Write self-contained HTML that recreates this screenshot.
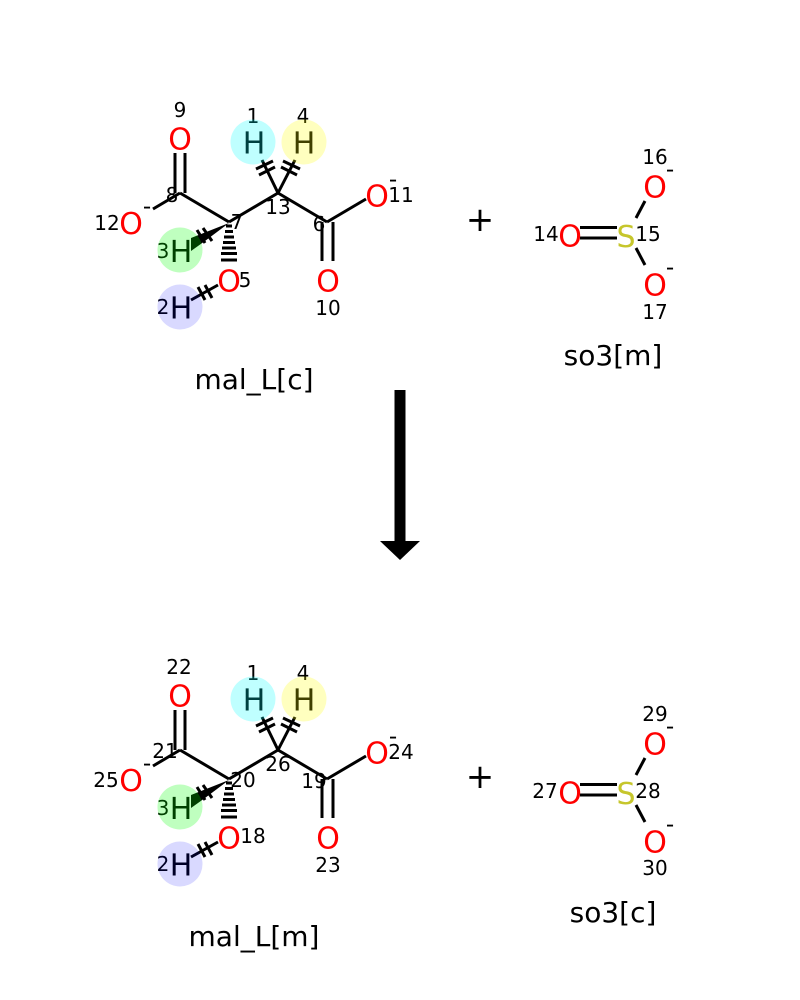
<!DOCTYPE html>
<html><head><meta charset="utf-8"><style>
html,body{margin:0;padding:0;background:#fff}
svg{display:block}
text{font-family:"DejaVu Sans",sans-serif;text-anchor:middle}
.a{font-size:30px;fill:#f00}
.s{font-size:30px;fill:#c6c62c}
.h{font-size:30px;fill:#000}
.n{font-size:20px;fill:#000}
.m{font-size:23px;fill:#000}
.t{font-size:28px;fill:#000}
.p{font-size:34px;fill:#000}
.b line,.b path{stroke:#000;stroke-width:3;fill:none}
</style></head><body>
<svg width="800" height="1000" viewBox="0 0 800 1000" xmlns="http://www.w3.org/2000/svg">
<rect width="800" height="1000" fill="#fff"/>
<defs>
<g id="m" class="b">
<line x1="175" y1="153" x2="175" y2="193"/><line x1="185" y1="153" x2="185" y2="193"/>
<line x1="153" y1="209" x2="180" y2="193"/>
<line x1="180" y1="193" x2="229" y2="222"/><line x1="229" y1="222" x2="278" y2="193"/><line x1="278" y1="193" x2="327" y2="222"/>
<line x1="327" y1="222" x2="366" y2="199"/>
<line x1="322" y1="222" x2="322" y2="261"/><line x1="333" y1="222" x2="333" y2="261"/>
<line x1="278" y1="193" x2="262" y2="160"/><line x1="278" y1="193" x2="295" y2="160"/>
<line x1="256" y1="169" x2="273" y2="161"/><line x1="259" y1="175" x2="275" y2="167"/>
<line x1="300" y1="169" x2="283" y2="161"/><line x1="297" y1="175" x2="281" y2="167"/>
<polygon points="229,223 191,238 191,251 205,241" fill="#000"/>
<line x1="197" y1="230" x2="205" y2="243"/><line x1="203" y1="228" x2="212" y2="241"/>
<line x1="218" y1="285" x2="191" y2="300"/>
<line x1="198" y1="287" x2="205" y2="300"/><line x1="205" y1="285" x2="212" y2="298"/>
<line x1="226" y1="226" x2="232" y2="226" stroke-width="2"/>
<line x1="225" y1="231.500" x2="233" y2="231.500" stroke-width="2"/>
<line x1="224" y1="237" x2="234" y2="237" stroke-width="2"/>
<line x1="223" y1="242.500" x2="235" y2="242.500" stroke-width="2"/>
<line x1="222" y1="248" x2="236" y2="248" stroke-width="2"/>
<line x1="221" y1="253.500" x2="237" y2="253.500" stroke-width="2"/>
<line x1="221" y1="260" x2="237" y2="260" stroke-width="2"/>
</g>
<g id="so" class="b">
<line x1="580" y1="227.500" x2="617" y2="227.500"/><line x1="580" y1="238" x2="617" y2="238"/>
<line x1="645" y1="201" x2="636" y2="218"/><line x1="636" y1="248" x2="645" y2="265"/>
</g>
<g id="c">
<circle cx="253" cy="142" r="22.500" fill="#0ff" fill-opacity=".25"/>
<circle cx="304" cy="142" r="22.500" fill="#ff0" fill-opacity=".25"/>
<circle cx="180" cy="250" r="22.500" fill="#0f0" fill-opacity=".25"/>
<circle cx="180" cy="307" r="22.500" fill="#00f" fill-opacity=".15"/>
</g>
</defs>

<use href="#m"/><use href="#m" y="557"/>
<use href="#so"/><use href="#so" y="557"/>

<!-- top left -->
<text class="a" x="180" y="149.500">O</text>
<text class="a" x="131" y="234">O</text>
<text class="a" x="377" y="206.500">O</text>
<text class="a" x="328" y="291.500">O</text>
<text class="a" x="229" y="291.500">O</text>
<text class="h" x="254" y="153.500">H</text>
<text class="h" x="304" y="153.500">H</text>
<text class="h" x="181" y="262">H</text>
<text class="h" x="181" y="318.500">H</text>
<text class="n" x="180" y="117">9</text>
<text class="n" x="253" y="123">1</text>
<text class="n" x="303" y="123">4</text>
<text class="n" x="172" y="202">8</text>
<text class="n" x="278" y="214">13</text>
<text class="n" x="237" y="229">7</text>
<text class="n" x="319" y="231">6</text>
<text class="n" x="401" y="202">11</text>
<text class="n" x="107" y="230">12</text>
<text class="n" x="163" y="258">3</text>
<text class="n" x="163" y="314">2</text>
<text class="n" x="245" y="287">5</text>
<text class="n" x="328" y="315">10</text>
<text class="m" x="147" y="214">-</text>
<text class="m" x="393" y="187">-</text>
<text class="t" x="254" y="389">mal_L[c]</text>

<!-- top right -->
<text class="p" x="480" y="231">+</text>
<text class="a" x="570" y="246.500">O</text>
<text class="s" x="626" y="247">S</text>
<text class="a" x="655" y="197.500">O</text>
<text class="a" x="655" y="295.500">O</text>
<text class="n" x="546" y="241">14</text>
<text class="n" x="648" y="241">15</text>
<text class="n" x="655" y="164">16</text>
<text class="n" x="655" y="319">17</text>
<text class="m" x="670" y="177">-</text>
<text class="m" x="670" y="275">-</text>
<text class="t" x="613" y="365">so3[m]</text>

<!-- arrow -->
<rect x="394.500" y="390" width="11" height="152" fill="#000"/>
<polygon points="380,541 420,541 400,560" fill="#000"/>

<!-- bottom left -->
<text class="a" x="180" y="706.500">O</text>
<text class="a" x="131" y="791">O</text>
<text class="a" x="377" y="763.500">O</text>
<text class="a" x="328" y="848.500">O</text>
<text class="a" x="229" y="848.500">O</text>
<text class="h" x="254" y="710.500">H</text>
<text class="h" x="304" y="710.500">H</text>
<text class="h" x="181" y="819">H</text>
<text class="h" x="181" y="875.500">H</text>
<text class="n" x="179" y="674">22</text>
<text class="n" x="253" y="680">1</text>
<text class="n" x="303" y="680">4</text>
<text class="n" x="165" y="758">21</text>
<text class="n" x="278" y="771">26</text>
<text class="n" x="243" y="787">20</text>
<text class="n" x="314" y="788">19</text>
<text class="n" x="401" y="759">24</text>
<text class="n" x="106" y="787">25</text>
<text class="n" x="163" y="815">3</text>
<text class="n" x="163" y="871">2</text>
<text class="n" x="253" y="843">18</text>
<text class="n" x="328" y="872">23</text>
<text class="m" x="147" y="771">-</text>
<text class="m" x="393" y="744">-</text>
<text class="t" x="254" y="946">mal_L[m]</text>

<!-- bottom right -->
<text class="p" x="480" y="788">+</text>
<text class="a" x="570" y="803.500">O</text>
<text class="s" x="626" y="804">S</text>
<text class="a" x="655" y="754.500">O</text>
<text class="a" x="655" y="852.500">O</text>
<text class="n" x="545" y="798">27</text>
<text class="n" x="648" y="798">28</text>
<text class="n" x="655" y="721">29</text>
<text class="n" x="655" y="875">30</text>
<text class="m" x="670" y="734">-</text>
<text class="m" x="670" y="832">-</text>
<text class="t" x="613" y="922">so3[c]</text>

<use href="#c"/><use href="#c" y="557"/>
</svg>
</body></html>
